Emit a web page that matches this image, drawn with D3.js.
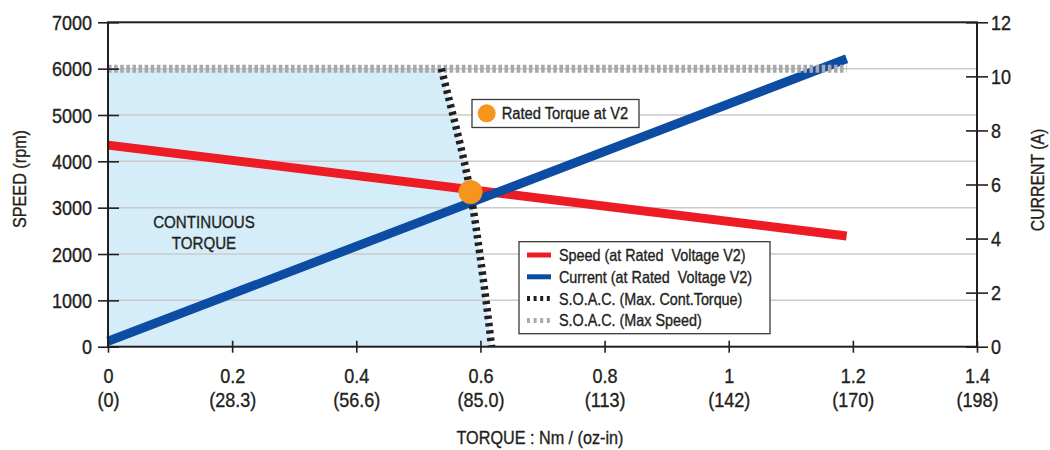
<!DOCTYPE html>
<html>
<head>
<meta charset="utf-8">
<script src="https://cdn.jsdelivr.net/npm/d3@7"></script>
<style>
  body { margin: 0; background: #fff; }
  svg text { font-family: "Liberation Sans", Arial, sans-serif; fill: #231f20;
             stroke: #231f20; stroke-width: 0.35px; white-space: pre; }
</style>
</head>
<body>
<svg id="chart" width="1050" height="450"></svg>
<script>
// ---- data ----
const torqueTicks = [0, 0.2, 0.4, 0.6, 0.8, 1, 1.2, 1.4];
const ozInLabels = ["(0)", "(28.3)", "(56.6)", "(85.0)", "(113)", "(142)", "(170)", "(198)"];
const speedTicks = [0, 1000, 2000, 3000, 4000, 5000, 6000, 7000];
const currentTicks = [0, 2, 4, 6, 8, 10, 12];

// speed at rated voltage V2 (rpm) vs torque (Nm)
const speedTorque = [0, 1.19];
const speedValues = [4350, 2390];

// current at rated voltage V2 (A) vs torque (Nm)
const currentTorque = [0, 1.19];
const currentValues = [0.2, 10.65];

// safe operating area: max continuous torque boundary
const soacTorque = [0.537, 0.552, 0.565, 0.577, 0.588, 0.599, 0.609, 0.618];
const soacSpeed = [6000, 5200, 4500, 3800, 3000, 2000, 1000, 0];

// safe operating area: max speed
const maxSpeedTorque = [0, 1.19];
const maxSpeedValues = [6000, 6000];

// rated torque point at V2
const ratedTorque = 0.584;
const ratedSpeed = 3340;

const legendLabels = [
  "Speed (at Rated  Voltage V2)",
  "Current (at Rated  Voltage V2)",
  "S.O.A.C. (Max. Cont.Torque)",
  "S.O.A.C. (Max Speed)"
];

// ---- layout ----
const svg = d3.select("#chart");
const plotLeft = 108, plotRight = 977, plotTop = 22.3, plotBottom = 346.7;
const ink = "#231f20";
const colors = { speed: "#ed1c24", current: "#0c4ca2", soac: "#231f20", maxSpeed: "#a7a9ac",
                 fill: "#d5ecf9", grid: "#cbcbcb", rated: "#f7941d" };

const x = d3.scaleLinear().domain([0, 1.4]).range([plotLeft, plotRight]);
const y = d3.scaleLinear().domain([0, 7000]).range([plotBottom, plotTop]);
const yCur = d3.scaleLinear().domain([0, 12]).range([plotBottom, plotTop]);

function label(sel, tx, ty, txt, size, sx, anchor, rot) {
  return sel.append("text")
    .attr("transform", `translate(${tx},${ty})` + (rot ? ` rotate(${rot})` : "") + ` scale(${sx},1)`)
    .attr("text-anchor", anchor)
    .style("font-size", size + "px")
    .text(txt);
}

// continuous torque region
const zipped = soacTorque.map((t, i) => [t, soacSpeed[i]]);
svg.append("path")
  .datum(zipped)
  .attr("fill", colors.fill)
  .attr("d", d3.area()
    .curve(d3.curveMonotoneY)
    .y(d => y(d[1]))
    .x0(x(0))
    .x1(d => x(d[0])));

// gridlines
svg.append("g").selectAll("line")
  .data(speedTicks.filter(v => v > 0 && v < 7000))
  .join("line")
  .attr("x1", plotLeft).attr("x2", plotRight)
  .attr("y1", d => y(d)).attr("y2", d => y(d))
  .attr("stroke", colors.grid).attr("stroke-width", 1.5);

// region caption
label(svg, 204, 228, "CONTINUOUS", 17, 0.89, "middle");
label(svg, 204, 249, "TORQUE", 17, 0.89, "middle");

// speed curve
const line = d3.line().x(d => x(d[0])).y(d => d[1]);
svg.append("path")
  .datum(speedTorque.map((t, i) => [t, y(speedValues[i])]))
  .attr("fill", "none").attr("stroke", colors.speed).attr("stroke-width", 9)
  .attr("d", line);

// current curve
svg.append("path")
  .datum(currentTorque.map((t, i) => [t, yCur(currentValues[i])]))
  .attr("fill", "none").attr("stroke", colors.current).attr("stroke-width", 9)
  .attr("d", line);

// max speed limit
svg.append("path")
  .datum(maxSpeedTorque.map((t, i) => [t, y(maxSpeedValues[i])]))
  .attr("fill", "none").attr("stroke", colors.maxSpeed).attr("stroke-width", 8)
  .attr("stroke-dasharray", "3.6,2.5")
  .attr("d", line);

// max continuous torque limit
svg.append("path")
  .datum(zipped)
  .attr("fill", "none").attr("stroke", colors.soac).attr("stroke-width", 7.5)
  .attr("stroke-dasharray", "3.4,4")
  .attr("d", d3.line().curve(d3.curveMonotoneY).x(d => x(d[0])).y(d => y(d[1])));

// axes
const tickFont = 20, tickScale = 0.9;
const xAxis = svg.append("g").attr("transform", `translate(0,${plotBottom})`)
  .call(d3.axisBottom(x).tickValues(torqueTicks).tickFormat(d3.format("")).tickSize(0));
xAxis.select(".domain").remove();
xAxis.selectAll(".tick line").attr("y1", -6).attr("y2", 6).attr("stroke", ink).attr("stroke-width", 1.6);
xAxis.selectAll(".tick text")
  .attr("y", 0).attr("dy", 0)
  .attr("transform", `translate(0,36) scale(${tickScale},1)`)
  .style("font-size", tickFont + "px");
xAxis.selectAll(".tick").append("text")
  .attr("text-anchor", "middle")
  .attr("transform", `translate(0,60) scale(${tickScale},1)`)
  .style("font-size", tickFont + "px")
  .text((d, i) => ozInLabels[i]);

const yAxis = svg.append("g").attr("transform", `translate(${plotLeft},0)`)
  .call(d3.axisLeft(y).tickValues(speedTicks).tickFormat(d3.format("d")).tickSize(0));
yAxis.select(".domain").remove();
yAxis.selectAll(".tick line").attr("x1", -10).attr("x2", 11).attr("stroke", ink).attr("stroke-width", 1.6);
yAxis.selectAll(".tick text")
  .attr("x", 0).attr("dy", 0)
  .attr("transform", `translate(-16,7.2) scale(${tickScale},1)`)
  .style("font-size", tickFont + "px");

const yAxisR = svg.append("g").attr("transform", `translate(${plotRight},0)`)
  .call(d3.axisRight(yCur).tickValues(currentTicks).tickFormat(d3.format("d")).tickSize(0));
yAxisR.select(".domain").remove();
yAxisR.selectAll(".tick line").attr("x1", -11).attr("x2", 11).attr("stroke", ink).attr("stroke-width", 1.6);
yAxisR.selectAll(".tick text")
  .attr("x", 0).attr("dy", 0)
  .attr("transform", `translate(14,7.2) scale(${tickScale},1)`)
  .style("font-size", tickFont + "px");

// frame
svg.append("rect")
  .attr("x", plotLeft).attr("y", plotTop)
  .attr("width", plotRight - plotLeft).attr("height", plotBottom - plotTop)
  .attr("fill", "none").attr("stroke", ink).attr("stroke-width", 2);

// axis titles
label(svg, 25.5, 179, "SPEED (rpm)", 18, 0.9, "middle", -90);
label(svg, 1043.5, 180, "CURRENT (A)", 18, 0.88, "middle", -90);
label(svg, 540, 444, "TORQUE : Nm / (oz-in)", 18, 0.9, "middle");

// rated torque marker
svg.append("circle")
  .attr("cx", x(ratedTorque)).attr("cy", y(ratedSpeed)).attr("r", 12)
  .attr("fill", colors.rated);

// rated torque callout
const callout = svg.append("g");
callout.append("rect")
  .attr("x", 472).attr("y", 99.5).attr("width", 167).attr("height", 28)
  .attr("fill", "#fff").attr("stroke", "#3a3a3a").attr("stroke-width", 1.3);
callout.append("circle").attr("cx", 486.7).attr("cy", 113.3).attr("r", 9).attr("fill", colors.rated);
label(callout, 501.7, 119, "Rated Torque at V2", 16, 0.92, "start");

// legend
const legend = svg.append("g");
legend.append("rect")
  .attr("x", 519).attr("y", 241.7).attr("width", 251).attr("height", 92)
  .attr("fill", "#fff").attr("stroke", "#3a3a3a").attr("stroke-width", 1.3);
const swatches = [
  { stroke: colors.speed, dash: null },
  { stroke: colors.current, dash: null },
  { stroke: colors.soac, dash: "3,3.6" },
  { stroke: colors.maxSpeed, dash: "3,3.6" }
];
legendLabels.forEach((txt, i) => {
  const cy = 255 + i * 21.8;
  legend.append("line")
    .attr("x1", 527).attr("x2", 551).attr("y1", cy).attr("y2", cy)
    .attr("stroke", swatches[i].stroke).attr("stroke-width", 5)
    .attr("stroke-dasharray", swatches[i].dash);
  label(legend, 559, cy + 6, txt, 16.5, 0.87, "start");
});
</script>
</body>
</html>
